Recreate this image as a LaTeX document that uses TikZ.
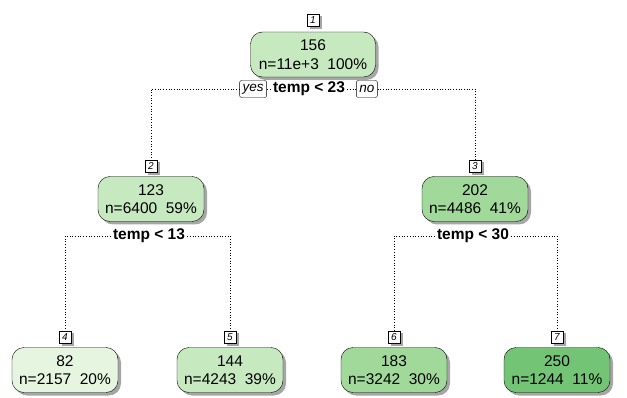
\documentclass[tikz,border=0pt]{standalone}
\usepackage{fontspec}
\setmainfont{Liberation Sans}
\usetikzlibrary{positioning,shadows}
\definecolor{gLight}{HTML}{E5F5E0}
\definecolor{gPale}{HTML}{C7E9C0}
\definecolor{gMid}{HTML}{A1D99B}
\definecolor{gDeep}{HTML}{74C476}
\tikzset{
  tnode/.style={draw,rounded corners=12pt,align=center,minimum width=106pt,minimum height=45pt,inner sep=2pt,
    font=\fontsize{15.5}{18.5}\selectfont,drop shadow={shadow xshift=3pt,shadow yshift=-3pt,opacity=0.35,fill=black}},
  tag/.style={draw,fill=white,inner sep=1pt,minimum width=12pt,minimum height=12.5pt,font=\fontsize{10}{10}\selectfont\itshape,
    drop shadow={shadow xshift=2.5pt,shadow yshift=-2pt,opacity=0.35,fill=black}},
  split/.style={inner sep=2pt,font=\fontsize{15.5}{18.5}\selectfont\bfseries},
  yn/.style={draw,fill=white,rounded corners=2pt,inner xsep=3pt,inner ysep=1pt,minimum height=17pt,font=\fontsize{13.5}{13.5}\selectfont\itshape},
  conn/.style={dotted,line width=0.7pt}
}

\begin{document}
\begin{tikzpicture}[x=1pt,y=-1pt,node distance=3.5pt and 5pt]
\useasboundingbox (0,0) rectangle (627,398);
\node[tnode,fill=gPale,minimum width=125pt] (n1) at (313,54.5) {156\\n=11e+3\ \ 100\%};
\node[tnode,fill=gPale] (n2) at (151,199) {123\\n=6400\ \ 59\%};
\node[tnode,fill=gMid] (n3) at (475,199) {202\\n=4486\ \ 41\%};
\node[tnode,fill=gLight] (n4) at (65,370) {82\\n=2157\ \ 20\%};
\node[tnode,fill=gPale] (n5) at (230,370) {144\\n=4243\ \ 39\%};
\node[tnode,fill=gMid] (n6) at (394,370) {183\\n=3242\ \ 30\%};
\node[tnode,fill=gDeep] (n7) at (557,370) {250\\n=1244\ \ 11\%};
\node[tag,above=5pt of n1] (t1) {1};
\node[tag,above=of n2] (t2) {2};
\node[tag,above=of n3] (t3) {3};
\node[tag,above=of n4] (t4) {4};
\node[tag,above=of n5] (t5) {5};
\node[tag,above=of n6] (t6) {6};
\node[tag,above=of n7] (t7) {7};
\node[split] (s1) at (309,89) {temp < 23};
\node[yn,left=4pt of s1] (yes) {yes};
\node[yn,right=9pt of s1] (no) {no};
\node[split] (s2) at (149,236) {temp < 13};
\node[split] (s3) at (473,236) {temp < 30};
\draw[conn] (yes) -- (s1); \draw[conn] (s1) -- (no);
\draw[conn] (yes.west) -| (t2.north);
\draw[conn] (no.east) -| (t3.north);
\draw[conn] (s2.west) -| (t4.north);
\draw[conn] (s2.east) -| (t5.north);
\draw[conn] (s3.west) -| (t6.north);
\draw[conn] (s3.east) -| (t7.north);
\end{tikzpicture}
\end{document}
